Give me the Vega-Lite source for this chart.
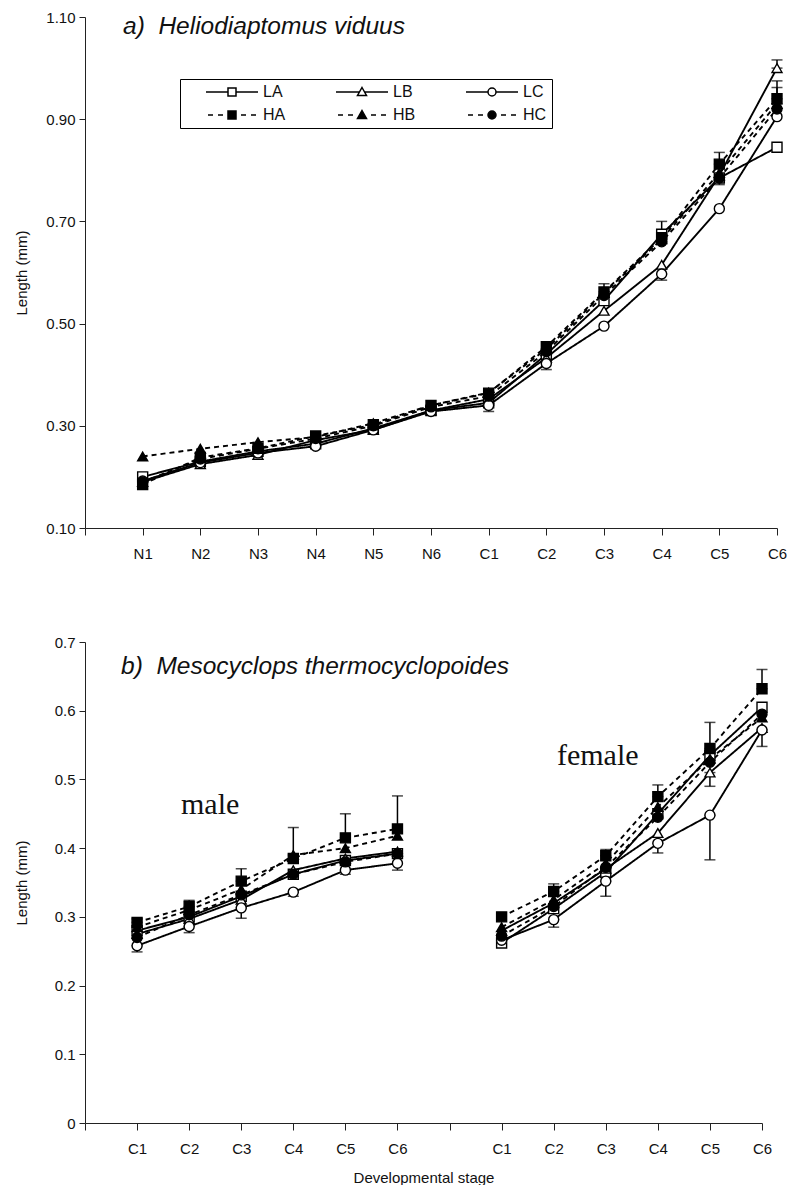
{
  "$schema": "https://vega.github.io/schema/vega-lite/v6.json",
  "padding": {"left": 14, "top": 10, "right": 0, "bottom": 0},
  "background": "white",
  "spacing": 74,
  "config": {
    "font": "Liberation Sans",
    "view": {"stroke": null},
    "axis": {
      "grid": false,
      "domainColor": "#222",
      "tickColor": "#222",
      "labelColor": "#111",
      "titleColor": "#111",
      "labelFontSize": 15,
      "titleFontSize": 15,
      "titleFontWeight": "normal",
      "labelFont": "Liberation Sans",
      "titleFont": "Liberation Sans"
    },
    "axisX": {"tickSize": 7, "labelPadding": 11, "labelAngle": 0, "titlePadding": 14},
    "axisY": {"tickSize": 6, "labelPadding": 4, "minExtent": 40, "maxExtent": 40, "titlePadding": 16}
  },
  "datasets": {
    "a": [
      {"stage":"N1","series":"LA","len":0.200},{"stage":"N2","series":"LA","len":0.230},{"stage":"N3","series":"LA","len":0.250},{"stage":"N4","series":"LA","len":0.265},{"stage":"N5","series":"LA","len":0.295},{"stage":"N6","series":"LA","len":0.330},{"stage":"C1","series":"LA","len":0.345},{"stage":"C2","series":"LA","len":0.440},{"stage":"C3","series":"LA","len":0.545},{"stage":"C4","series":"LA","len":0.675},{"stage":"C5","series":"LA","len":0.785,"lo":0.772,"hi":0.785},{"stage":"C6","series":"LA","len":0.845},
      {"stage":"N1","series":"LB","len":0.190},{"stage":"N2","series":"LB","len":0.225},{"stage":"N3","series":"LB","len":0.243},{"stage":"N4","series":"LB","len":0.272},{"stage":"N5","series":"LB","len":0.292},{"stage":"N6","series":"LB","len":0.330},{"stage":"C1","series":"LB","len":0.352},{"stage":"C2","series":"LB","len":0.433},{"stage":"C3","series":"LB","len":0.525},{"stage":"C4","series":"LB","len":0.615},{"stage":"C5","series":"LB","len":0.790},{"stage":"C6","series":"LB","len":1.000,"lo":1.000,"hi":1.016},
      {"stage":"N1","series":"LC","len":0.192},{"stage":"N2","series":"LC","len":0.228},{"stage":"N3","series":"LC","len":0.247},{"stage":"N4","series":"LC","len":0.260},{"stage":"N5","series":"LC","len":0.292},{"stage":"N6","series":"LC","len":0.328},{"stage":"C1","series":"LC","len":0.340,"lo":0.328,"hi":0.340},{"stage":"C2","series":"LC","len":0.422,"lo":0.410,"hi":0.422},{"stage":"C3","series":"LC","len":0.495},{"stage":"C4","series":"LC","len":0.597,"lo":0.585,"hi":0.597},{"stage":"C5","series":"LC","len":0.725},{"stage":"C6","series":"LC","len":0.905},
      {"stage":"N1","series":"HA","len":0.185},{"stage":"N2","series":"HA","len":0.238},{"stage":"N3","series":"HA","len":0.256},{"stage":"N4","series":"HA","len":0.280},{"stage":"N5","series":"HA","len":0.302},{"stage":"N6","series":"HA","len":0.340},{"stage":"C1","series":"HA","len":0.364},{"stage":"C2","series":"HA","len":0.455},{"stage":"C3","series":"HA","len":0.562,"lo":0.562,"hi":0.578},{"stage":"C4","series":"HA","len":0.668,"lo":0.668,"hi":0.700},{"stage":"C5","series":"HA","len":0.812,"lo":0.812,"hi":0.835},{"stage":"C6","series":"HA","len":0.940,"lo":0.940,"hi":0.975},
      {"stage":"N1","series":"HB","len":0.240},{"stage":"N2","series":"HB","len":0.255},{"stage":"N3","series":"HB","len":0.268},{"stage":"N4","series":"HB","len":0.278},{"stage":"N5","series":"HB","len":0.305},{"stage":"N6","series":"HB","len":0.340},{"stage":"C1","series":"HB","len":0.365},{"stage":"C2","series":"HB","len":0.450},{"stage":"C3","series":"HB","len":0.560},{"stage":"C4","series":"HB","len":0.665},{"stage":"C5","series":"HB","len":0.795},{"stage":"C6","series":"HB","len":0.930,"lo":0.930,"hi":0.962},
      {"stage":"N1","series":"HC","len":0.190},{"stage":"N2","series":"HC","len":0.235},{"stage":"N3","series":"HC","len":0.255},{"stage":"N4","series":"HC","len":0.275},{"stage":"N5","series":"HC","len":0.300},{"stage":"N6","series":"HC","len":0.337},{"stage":"C1","series":"HC","len":0.358},{"stage":"C2","series":"HC","len":0.445},{"stage":"C3","series":"HC","len":0.555},{"stage":"C4","series":"HC","len":0.660},{"stage":"C5","series":"HC","len":0.785},{"stage":"C6","series":"HC","len":0.920}
    ],
    "b": [
      {"sex":"male","stage":"mC1","series":"LA","len":0.280},{"sex":"male","stage":"mC2","series":"LA","len":0.300},{"sex":"male","stage":"mC3","series":"LA","len":0.330},{"sex":"male","stage":"mC4","series":"LA","len":0.362},{"sex":"male","stage":"mC5","series":"LA","len":0.382},{"sex":"male","stage":"mC6","series":"LA","len":0.392},
      {"sex":"male","stage":"mC1","series":"LB","len":0.275},{"sex":"male","stage":"mC2","series":"LB","len":0.297},{"sex":"male","stage":"mC3","series":"LB","len":0.325},{"sex":"male","stage":"mC4","series":"LB","len":0.368},{"sex":"male","stage":"mC5","series":"LB","len":0.385},{"sex":"male","stage":"mC6","series":"LB","len":0.395},
      {"sex":"male","stage":"mC1","series":"LC","len":0.258,"lo":0.249,"hi":0.258},{"sex":"male","stage":"mC2","series":"LC","len":0.286,"lo":0.277,"hi":0.286},{"sex":"male","stage":"mC3","series":"LC","len":0.313,"lo":0.298,"hi":0.313},{"sex":"male","stage":"mC4","series":"LC","len":0.336,"lo":0.330,"hi":0.336},{"sex":"male","stage":"mC5","series":"LC","len":0.368,"lo":0.362,"hi":0.368},{"sex":"male","stage":"mC6","series":"LC","len":0.378,"lo":0.368,"hi":0.378},
      {"sex":"male","stage":"mC1","series":"HA","len":0.292,"lo":0.292,"hi":0.297},{"sex":"male","stage":"mC2","series":"HA","len":0.315,"lo":0.315,"hi":0.324},{"sex":"male","stage":"mC3","series":"HA","len":0.352,"lo":0.352,"hi":0.370},{"sex":"male","stage":"mC4","series":"HA","len":0.385},{"sex":"male","stage":"mC5","series":"HA","len":0.415,"lo":0.415,"hi":0.450},{"sex":"male","stage":"mC6","series":"HA","len":0.428,"lo":0.428,"hi":0.476},
      {"sex":"male","stage":"mC1","series":"HB","len":0.285},{"sex":"male","stage":"mC2","series":"HB","len":0.310},{"sex":"male","stage":"mC3","series":"HB","len":0.340},{"sex":"male","stage":"mC4","series":"HB","len":0.390,"lo":0.390,"hi":0.430},{"sex":"male","stage":"mC5","series":"HB","len":0.400},{"sex":"male","stage":"mC6","series":"HB","len":0.418},
      {"sex":"male","stage":"mC1","series":"HC","len":0.270},{"sex":"male","stage":"mC2","series":"HC","len":0.303},{"sex":"male","stage":"mC3","series":"HC","len":0.332},{"sex":"male","stage":"mC4","series":"HC","len":0.362},{"sex":"male","stage":"mC5","series":"HC","len":0.380},{"sex":"male","stage":"mC6","series":"HC","len":0.392},
      {"sex":"female","stage":"fC1","series":"LA","len":0.262},{"sex":"female","stage":"fC2","series":"LA","len":0.312},{"sex":"female","stage":"fC3","series":"LA","len":0.365},{"sex":"female","stage":"fC4","series":"LA","len":0.450},{"sex":"female","stage":"fC5","series":"LA","len":0.535},{"sex":"female","stage":"fC6","series":"LA","len":0.605},
      {"sex":"female","stage":"fC1","series":"LB","len":0.280},{"sex":"female","stage":"fC2","series":"LB","len":0.320},{"sex":"female","stage":"fC3","series":"LB","len":0.370},{"sex":"female","stage":"fC4","series":"LB","len":0.422},{"sex":"female","stage":"fC5","series":"LB","len":0.510,"lo":0.490,"hi":0.510},{"sex":"female","stage":"fC6","series":"LB","len":0.575},
      {"sex":"female","stage":"fC1","series":"LC","len":0.266},{"sex":"female","stage":"fC2","series":"LC","len":0.296,"lo":0.285,"hi":0.296},{"sex":"female","stage":"fC3","series":"LC","len":0.352,"lo":0.330,"hi":0.352},{"sex":"female","stage":"fC4","series":"LC","len":0.407,"lo":0.393,"hi":0.407},{"sex":"female","stage":"fC5","series":"LC","len":0.448,"lo":0.383,"hi":0.448},{"sex":"female","stage":"fC6","series":"LC","len":0.572,"lo":0.548,"hi":0.572},
      {"sex":"female","stage":"fC1","series":"HA","len":0.300},{"sex":"female","stage":"fC2","series":"HA","len":0.337,"lo":0.337,"hi":0.348},{"sex":"female","stage":"fC3","series":"HA","len":0.389,"lo":0.389,"hi":0.398},{"sex":"female","stage":"fC4","series":"HA","len":0.475,"lo":0.475,"hi":0.492},{"sex":"female","stage":"fC5","series":"HA","len":0.545,"lo":0.545,"hi":0.583},{"sex":"female","stage":"fC6","series":"HA","len":0.632,"lo":0.632,"hi":0.660},
      {"sex":"female","stage":"fC1","series":"HB","len":0.285},{"sex":"female","stage":"fC2","series":"HB","len":0.325},{"sex":"female","stage":"fC3","series":"HB","len":0.378},{"sex":"female","stage":"fC4","series":"HB","len":0.460},{"sex":"female","stage":"fC5","series":"HB","len":0.530},{"sex":"female","stage":"fC6","series":"HB","len":0.590},
      {"sex":"female","stage":"fC1","series":"HC","len":0.272},{"sex":"female","stage":"fC2","series":"HC","len":0.315},{"sex":"female","stage":"fC3","series":"HC","len":0.372},{"sex":"female","stage":"fC4","series":"HC","len":0.445},{"sex":"female","stage":"fC5","series":"HC","len":0.525},{"sex":"female","stage":"fC6","series":"HC","len":0.595}
    ],
    "notes": [
      {"note": "male", "stage": "mC2", "len": 0.45},
      {"note": "female", "stage": "fC3", "len": 0.521}
    ]
  },
  "resolve": {"scale": {"opacity": "independent"}},
  "vconcat": [
    {
      "width": 692,
      "height": 511,
      "data": {"name": "a"},
      "title": {"text": "a)\u00a0 Heliodiaptomus viduus", "anchor": "start", "orient": "top", "frame": "group", "offset": -48, "dx": 38, "baseline": "alphabetic", "fontSize": 24.5, "fontStyle": "italic", "fontWeight": "normal", "font": "Liberation Sans", "color": "#111"},
      "encoding": {
        "x": {"field": "stage", "type": "ordinal", "sort": null, "title": null,
              "scale": {"type": "point", "padding": 0, "domain": ["", "N1", "N2", "N3", "N4", "N5", "N6", "C1", "C2", "C3", "C4", "C5", "C6"]}},
        "y": {"field": "len", "type": "quantitative", "title": "Length (mm)",
              "scale": {"domain": [0.1, 1.1], "zero": false, "nice": false},
              "axis": {"values": [0.1, 0.3, 0.5, 0.7, 0.9, 1.1], "format": ".2f"}}
      },
      "layer": [
        {
          "mark": {"type": "line", "color": "black", "strokeWidth": 1.9},
          "encoding": {
            "detail": {"field": "series", "type": "nominal"},
            "strokeDash": {"condition": {"test": "substring(datum.series,0,1) == 'H'", "value": [5, 4]}, "value": [1, 0]}
          }
        },
        {
          "transform": [{"filter": "isValid(datum.lo)"}],
          "mark": {"type": "errorbar", "color": "black", "thickness": 1.5, "ticks": {"size": 11, "thickness": 1.5, "color": "black"}},
          "encoding": {
            "y": {"field": "lo", "type": "quantitative", "title": "Length (mm)"},
            "y2": {"field": "hi"}
          }
        },
        {
          "mark": {"type": "point", "filled": true, "stroke": "black", "strokeWidth": 1.4, "size": 100},
          "encoding": {
            "fill": {"condition": {"test": "substring(datum.series,0,1) == 'H'", "value": "black"}, "value": "white"},
            "shape": {"condition": [{"test": "substring(datum.series,1,2) == 'A'", "value": "square"}, {"test": "substring(datum.series,1,2) == 'B'", "value": "triangle-up"}], "value": "circle"},
            "opacity": {"field": "series", "type": "ordinal",
                        "scale": {"domain": ["LA", "LB", "LC", "HA", "HB", "HC"], "range": [1, 1]},
                        "legend": {
                          "title": null, "orient": "none", "legendX": 95, "legendY": 62,
                          "direction": "horizontal", "columns": 3,
                          "strokeColor": "black", "padding": 5,
                          "labelFont": "Liberation Sans", "labelFontSize": 16, "labelColor": "#111",
                          "symbolSize": 100, "symbolStrokeWidth": 1.5, "symbolStrokeColor": "black",
                          "symbolOffset": 0, "labelOffset": 62, "columnPadding": 26, "rowPadding": 7,
                          "encoding": {
                            "symbols": {
                              "shape": {"value": {"expr": "datum.value == 'LA' ? 'M-1.6,0M2.6,0H7M8.6,0H13M7,-0.8H8.6V0.8H7Z' : datum.value == 'LB' ? 'M-1.6,0M2.6,0H7.3M8.3,0H13M7.8,-0.9L8.7,0.7L6.9,0.7Z' : datum.value == 'LC' ? 'M-1.6,0M2.6,0H7M8.6,0H13M7,0A0.8,0.8 0 1,0 8.6,0A0.8,0.8 0 1,0 7,0Z' : datum.value == 'HA' ? 'M-1.6,0M3,0H4M5,0H6M9.6,0H10.6M11.6,0H12.6M7,-0.8H8.6V0.8H7Z' : datum.value == 'HB' ? 'M-1.6,0M3,0H4M5,0H6M9.6,0H10.6M11.6,0H12.6M7.8,-0.9L8.7,0.7L6.9,0.7Z' : 'M-1.6,0M3,0H4M5,0H6M9.6,0H10.6M11.6,0H12.6M7,0A0.8,0.8 0 1,0 8.6,0A0.8,0.8 0 1,0 7,0Z'"}},
                              "fill": {"value": {"expr": "substring(datum.value,0,1) == 'H' ? 'black' : 'white'"}},
                              "stroke": {"value": "black"},
                              "strokeWidth": {"value": 1.5},
                              "opacity": {"value": 1}
                            }
                          }
                        }}
          }
        }
      ]
    },
    {
      "width": 677,
      "height": 481,
      "data": {"name": "b"},
      "title": {"text": "b)\u00a0 Mesocyclops thermocyclopoides", "anchor": "start", "orient": "top", "frame": "group", "offset": -63, "dx": 36, "baseline": "alphabetic", "fontSize": 24.5, "fontStyle": "italic", "fontWeight": "normal", "font": "Liberation Sans", "color": "#111"},
      "encoding": {
        "x": {"field": "stage", "type": "ordinal", "sort": null, "title": "Developmental stage",
              "scale": {"type": "point", "padding": 0, "domain": ["x", "mC1", "mC2", "mC3", "mC4", "mC5", "mC6", "g", "fC1", "fC2", "fC3", "fC4", "fC5", "fC6"]},
              "axis": {"labelExpr": "length(datum.label) > 1 ? substring(datum.label, 1) : ''"}},
        "y": {"field": "len", "type": "quantitative", "title": "Length (mm)",
              "scale": {"domain": [0, 0.7], "nice": false},
              "axis": {"values": [0, 0.1, 0.2, 0.3, 0.4, 0.5, 0.6, 0.7], "format": ".1~f"}}
      },
      "layer": [
        {
          "mark": {"type": "line", "color": "black", "strokeWidth": 1.9},
          "encoding": {
            "detail": [{"field": "sex", "type": "nominal"}, {"field": "series", "type": "nominal"}],
            "strokeDash": {"condition": {"test": "substring(datum.series,0,1) == 'H'", "value": [5, 4]}, "value": [1, 0]}
          }
        },
        {
          "transform": [{"filter": "isValid(datum.lo)"}],
          "mark": {"type": "errorbar", "color": "black", "thickness": 1.5, "ticks": {"size": 11, "thickness": 1.5, "color": "black"}},
          "encoding": {
            "y": {"field": "lo", "type": "quantitative", "title": "Length (mm)"},
            "y2": {"field": "hi"}
          }
        },
        {
          "mark": {"type": "point", "filled": true, "stroke": "black", "strokeWidth": 1.4, "size": 100, "opacity": 1},
          "encoding": {
            "fill": {"condition": {"test": "substring(datum.series,0,1) == 'H'", "value": "black"}, "value": "white"},
            "shape": {"condition": [{"test": "substring(datum.series,1,2) == 'A'", "value": "square"}, {"test": "substring(datum.series,1,2) == 'B'", "value": "triangle-up"}], "value": "circle"}
          }
        },
        {
          "data": {"name": "notes"},
          "transform": [{"filter": "datum.note == 'male'"}],
          "mark": {"type": "text", "font": "Liberation Serif", "fontSize": 30, "color": "#111", "align": "center", "baseline": "alphabetic", "dx": 21},
          "encoding": {"text": {"field": "note", "type": "nominal"}}
        },
        {
          "data": {"name": "notes"},
          "transform": [{"filter": "datum.note == 'female'"}],
          "mark": {"type": "text", "font": "Liberation Serif", "fontSize": 30, "color": "#111", "align": "center", "baseline": "alphabetic", "dx": -8},
          "encoding": {"text": {"field": "note", "type": "nominal"}}
        }
      ]
    }
  ]
}
